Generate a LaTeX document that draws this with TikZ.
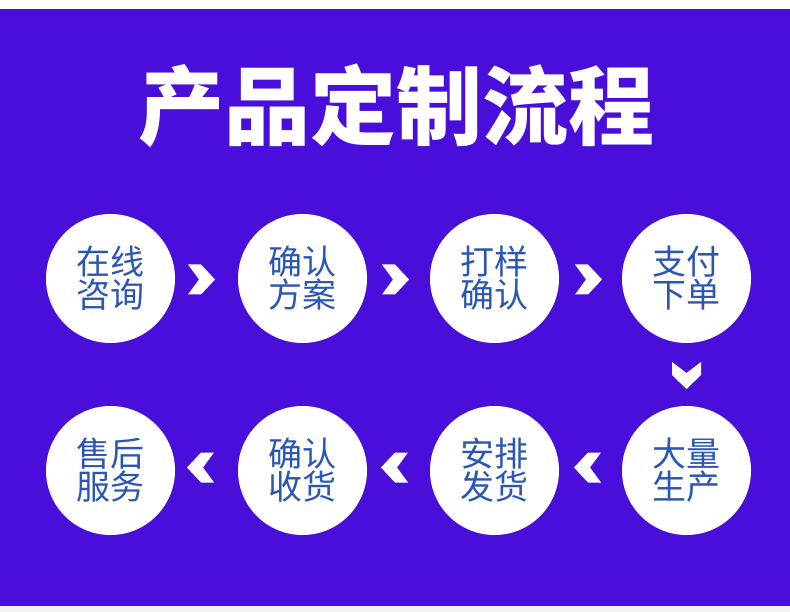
\documentclass[tikz,border=0pt]{standalone}
\usepackage{fontspec}
\newfontfamily\cjk{Noto Sans CJK SC}
\definecolor{bgblue}{HTML}{4A0EDB}
\definecolor{txtblue}{HTML}{2B57B3}
\definecolor{stripgray}{HTML}{F2F2F2}
\tikzset{
  stepcircle/.style={circle, fill=white, minimum size=129pt, inner sep=0pt,
    align=center, text=txtblue, font=\cjk\fontsize{34}{33}\selectfont},
  titletext/.style={text=white, inner sep=0pt, font=\cjk\bfseries\fontsize{86}{86}\selectfont},
  chevR/.pic={\fill[white] (0,-15) -- (13,-15) -- (27,0) -- (13,15) -- (0,15) -- (11,0) -- cycle;},
  chevL/.pic={\fill[white] (0,-15) -- (-13,-15) -- (-27,0) -- (-13,15) -- (0,15) -- (-11,0) -- cycle;},
  chevD/.pic={\fill[white] (-14.5,0) -- (-14.5,13) -- (0,27) -- (14.5,13) -- (14.5,0) -- (0,11) -- cycle;}
}
\begin{document}
\begin{tikzpicture}[x=1pt,y=-1pt]
\useasboundingbox (0,0) rectangle (790,612);
\fill[white] (0,0) rectangle (790,9);
\fill[bgblue] (0,9) rectangle (790,606);
\fill[stripgray] (0,606) rectangle (790,612);

\node[titletext] (title) at (396,106) {产品定制流程};

\node[stepcircle] (s1) at (110.5,278.5) {在线\\咨询};
\node[stepcircle] (s2) at (302.5,278.5) {确认\\方案};
\node[stepcircle] (s3) at (494.5,278.5) {打样\\确认};
\node[stepcircle] (s4) at (686.5,278.5) {支付\\下单};
\node[stepcircle] (s5) at (686.5,470.5) {大量\\生产};
\node[stepcircle] (s6) at (494.5,470.5) {安排\\发货};
\node[stepcircle] (s7) at (302.5,470.5) {确认\\收货};
\node[stepcircle] (s8) at (110.5,470.5) {售后\\服务};

\pic at (188,279.5) {chevR};
\pic at (382,279.5) {chevR};
\pic at (575,279.5) {chevR};
\pic at (686.5,362) {chevD};
\pic at (601,467.5) {chevL};
\pic at (408,467.5) {chevL};
\pic at (214,467.5) {chevL};
\end{tikzpicture}
\end{document}
